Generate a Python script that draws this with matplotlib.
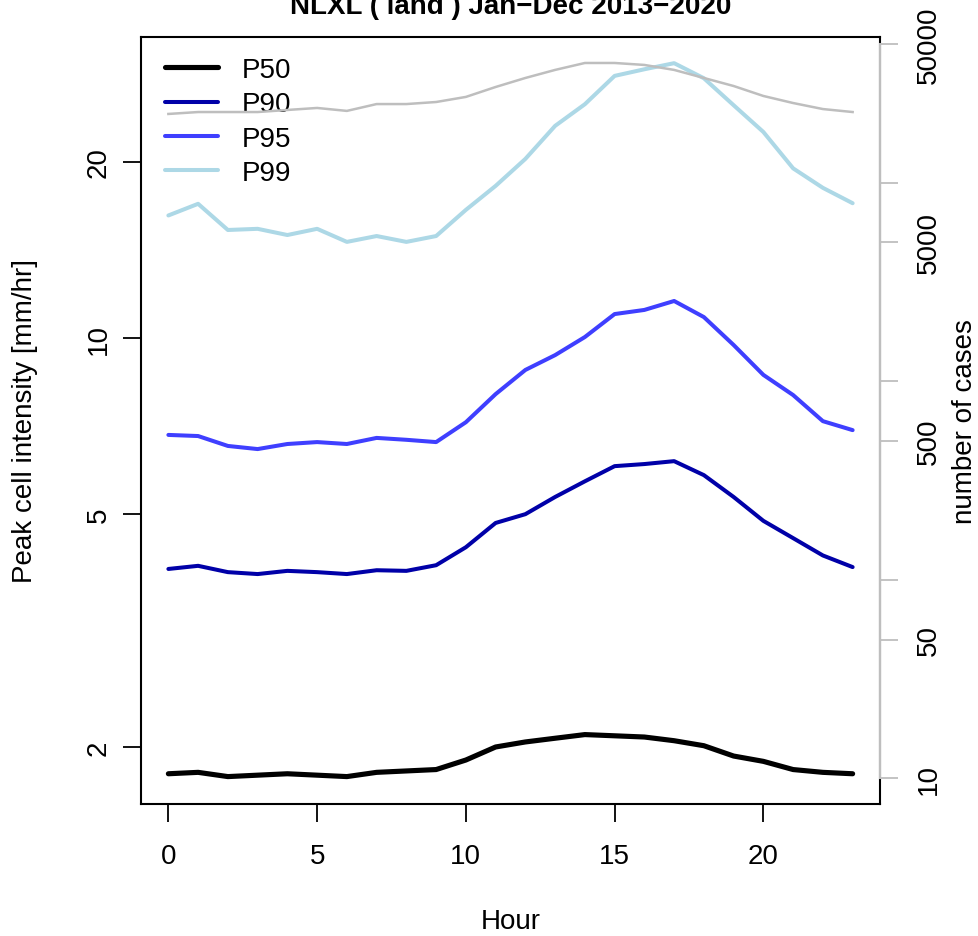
import matplotlib
matplotlib.use('Agg')
import matplotlib.pyplot as plt
from matplotlib.ticker import NullLocator, FixedLocator, FixedFormatter

# ---------------- data ----------------
hours = list(range(24))
p50 = [1.80, 1.81, 1.78, 1.79, 1.80, 1.79, 1.78, 1.81, 1.82, 1.83, 1.90, 2.00,
       2.04, 2.07, 2.10, 2.09, 2.08, 2.05, 2.01, 1.93, 1.89, 1.83, 1.81, 1.80]
p90 = [4.03, 4.08, 3.98, 3.95, 4.00, 3.98, 3.95, 4.01, 4.00, 4.09, 4.39, 4.83,
       5.00, 5.35, 5.69, 6.04, 6.09, 6.16, 5.83, 5.35, 4.87, 4.55, 4.25, 4.06]
p95 = [6.83, 6.80, 6.54, 6.46, 6.59, 6.64, 6.59, 6.75, 6.70, 6.64, 7.18, 8.02,
       8.82, 9.35, 10.04, 10.99, 11.17, 11.57, 10.86, 9.73, 8.65, 7.99, 7.21, 6.96]
p99 = [16.2, 16.96, 15.3, 15.37, 15.0, 15.37, 14.6, 14.94, 14.6, 14.94, 16.56, 18.2,
       20.24, 23.05, 25.1, 28.06, 28.8, 29.5, 27.8, 25.0, 22.5, 19.5, 18.06, 17.0]
n_cases = [22200, 22700, 22700, 22700, 23250, 23800, 23000, 24900, 24900, 25500, 27050, 30350,
           33700, 37000, 40100, 40100, 39200, 37000, 33700, 30700, 27350, 25200, 23500, 22700]

series_names = ['P50', 'P90', 'P95', 'P99']
x_ticks = [0, 5, 10, 15, 20]
left_ticks = [2, 5, 10, 20]
right_ticks = [10, 50, 100, 500, 1000, 5000, 10000, 50000]
right_labels = ['10', '50', '', '500', '', '5000', '', '50000']
title = 'NLXL ( land ) Jan\u2212Dec 2013\u22122020'

# ---------------- style ----------------
plt.rcParams['font.family'] = ['Liberation Sans', 'DejaVu Sans']
FS = 20
W, H = 979, 937
fig = plt.figure(figsize=(W / 100, H / 100), dpi=100)
L, R, T, B = 141, 880, 38, 805
ax = fig.add_axes([L / W, 1 - B / H, (R - L) / W, (B - T) / H])

colors = ['black', '#0000A8', '#3F3FFF', '#ADD8E6']
widths = [3.7, 2.9, 2.9, 2.9]
for vals, name, c, lw in zip([p50, p90, p95, p99], series_names, colors, widths):
    ax.plot(hours, vals, color=c, lw=lw, label=name, solid_capstyle='round')

ax.set_yscale('log')
ax.set_xlim(-0.92, 23.92)
ax.set_ylim(1.598, 32.7)
ax.yaxis.set_major_locator(FixedLocator(left_ticks))
ax.yaxis.set_major_formatter(FixedFormatter([str(v) for v in left_ticks]))
ax.yaxis.set_minor_locator(NullLocator())
ax.set_xticks(x_ticks)
ax.set_xticklabels([str(v) for v in x_ticks])
for s in ax.spines.values():
    s.set_linewidth(1.5)
ax.tick_params(axis='both', direction='out', length=13, width=1.3, labelsize=FS)
ax.tick_params(axis='x', pad=15)
ax.tick_params(axis='y', pad=8, labelrotation=90)
for lab in ax.get_yticklabels():
    lab.set_va('center')

ax.set_xlabel('Hour', fontsize=FS)
ax.xaxis.set_label_coords(0.5, (B - 922) / (B - T))
ax.xaxis.label.set_va('center')
ax.set_ylabel('Peak cell intensity [mm/hr]', fontsize=FS)
ax.yaxis.set_label_coords((25 - L) / (R - L), 0.5)
ax.yaxis.label.set_va('center')

leg = ax.legend(loc='upper left', bbox_to_anchor=((165 - L) / (R - L), (B - 58) / (B - T)),
                frameon=False, fontsize=FS, handlelength=1.9, handletextpad=0.85,
                labelspacing=0.3, borderaxespad=0, borderpad=0)

# right axis
ax2 = ax.twinx()
ax2.set_position(ax.get_position())
ax2.plot(hours, n_cases, color='#BEBEBE', lw=1.8)
ax2.set_yscale('log')
ax2.set_ylim(7.42, 54200)
ax2.yaxis.set_major_locator(FixedLocator(right_ticks))
ax2.yaxis.set_major_formatter(FixedFormatter(right_labels))
ax2.yaxis.set_minor_locator(NullLocator())
for k in ['top', 'bottom', 'left']:
    ax2.spines[k].set_visible(False)
ax2.spines['right'].set_color('#BEBEBE')
ax2.spines['right'].set_linewidth(1.5)
ax2.spines['right'].set_bounds(10, 50000)
ax2.tick_params(axis='y', direction='out', length=13, width=1.3, color='#BEBEBE',
                labelcolor='black', labelsize=FS, pad=13, labelrotation=90)
for lab in ax2.get_yticklabels():
    lab.set_va('center')
ax2.set_ylabel('number of cases', fontsize=FS)
ax2.yaxis.set_label_coords((965 - L) / (R - L), 0.5)
ax2.yaxis.label.set_va('center')

fig.text((L + R) / 2 / W, 1 - 14 / H, title, ha='center', va='baseline',
         fontsize=20, fontweight='bold')

fig.savefig('out.png', dpi=100)
